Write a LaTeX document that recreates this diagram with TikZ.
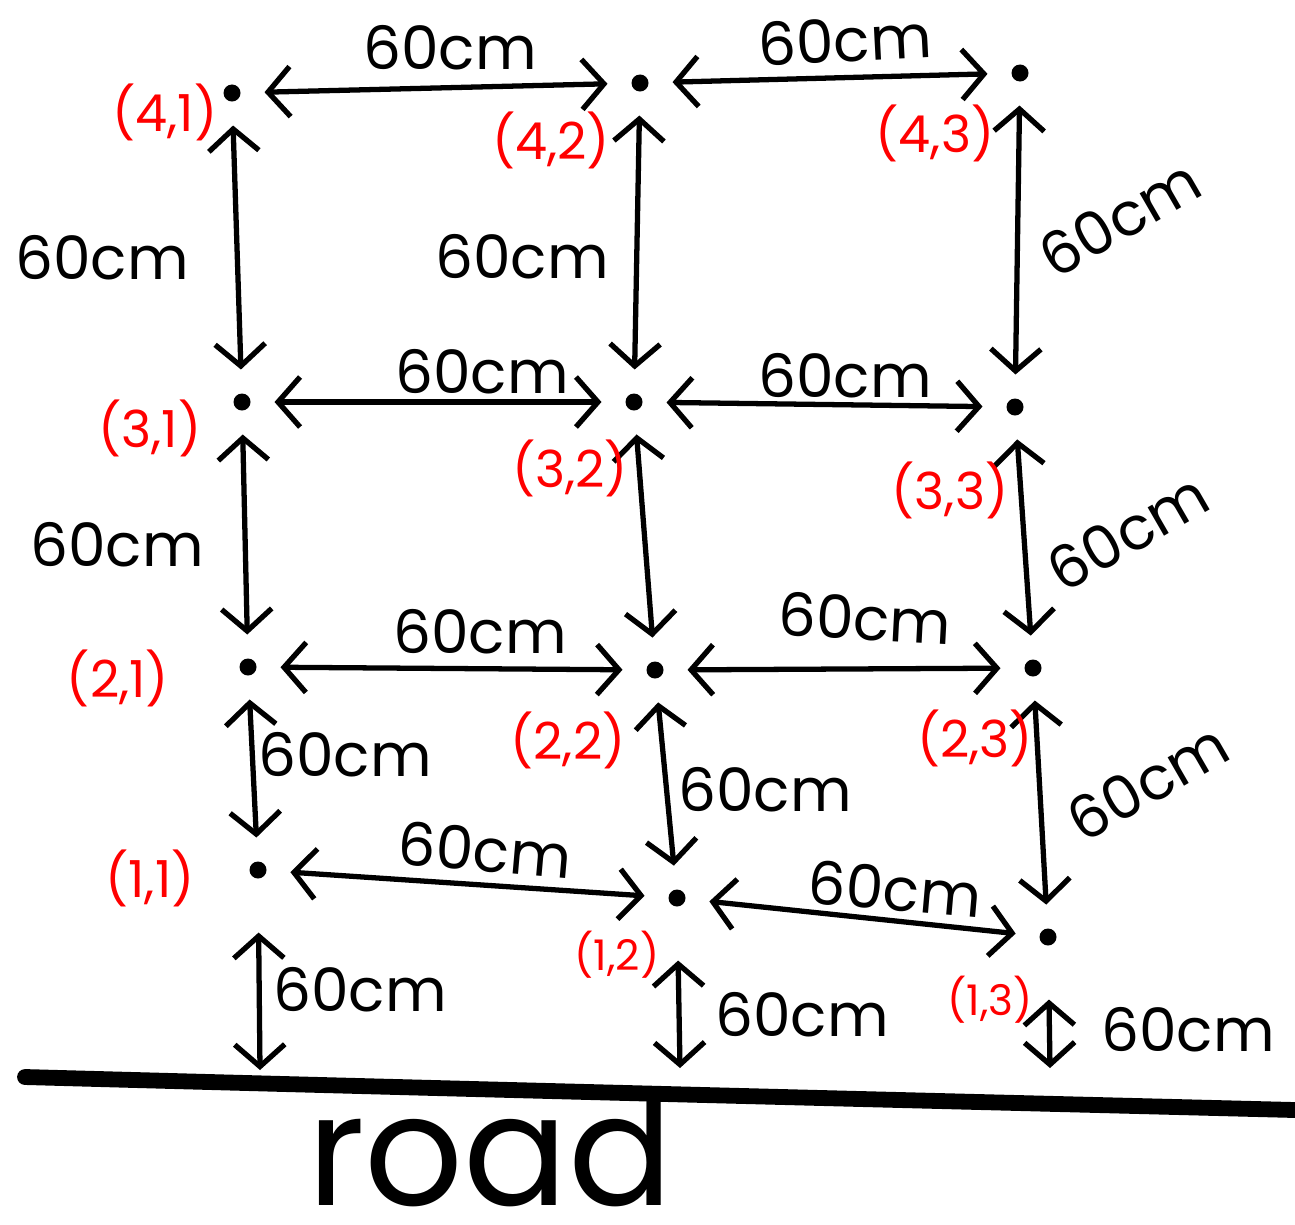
\documentclass[tikz,border=0pt]{standalone}
\usepackage{fontspec}
\newfontfamily\hand{Poppins}
\usetikzlibrary{arrows.meta}
\begin{document}
\begin{tikzpicture}[x=0.01cm,y=-0.01cm,
  dot/.style={circle,fill=black,inner sep=0pt,minimum size=0.17cm,outer sep=0.24cm},
  arr/.style={line width=1.5pt,line cap=round,{Straight Barb[length=0.22cm,width=0.5cm,line width=1.5pt]}-{Straight Barb[length=0.22cm,width=0.5cm,line width=1.5pt]}},
  dist/.style={font=\hand\fontsize{17}{20}\selectfont,inner sep=1pt},
  lab/.style={font=\hand\fontsize{14.5}{17}\selectfont,text=red,inner sep=1pt}]
\useasboundingbox (0,0) rectangle (1295,1224);
% dots
\node[dot] (a41) at (232,93) {};
\node[dot] (a42) at (640,83) {};
\node[dot] (a43) at (1020,73) {};
\node[dot] (a31) at (242,402) {};
\node[dot] (a32) at (634,402) {};
\node[dot] (a33) at (1015,407) {};
\node[dot] (a21) at (248,667) {};
\node[dot] (a22) at (655,670) {};
\node[dot] (a23) at (1033,668) {};
\node[dot] (a11) at (258,870) {};
\node[dot] (a12) at (677,898) {};
\node[dot] (a13) at (1048,937) {};
% road points
\coordinate (r1) at (260,1070);
\coordinate (r2) at (680,1068);
\coordinate (r3) at (1050,1068);
% road line
\draw[line width=4.5pt,line cap=round] (25,1077) .. controls (500,1090) and (900,1100) .. (1295,1110);
% horizontal arrows
\draw[arr] (a41) -- (a42);
\draw[arr] (a42) -- (a43);
\draw[arr] (a31) -- (a32);
\draw[arr] (a32) -- (a33);
\draw[arr] (a21) -- (a22);
\draw[arr] (a22) -- (a23);
\draw[arr] (a11) -- (a12);
\draw[arr] (a12) -- (a13);
% vertical arrows
\draw[arr] (a41) -- (a31);
\draw[arr] (a31) -- (a21);
\draw[arr] (a21) -- (a11);
\draw[arr] (a42) -- (a32);
\draw[arr] (a32) -- (a22);
\draw[arr] (a22) -- (a12);
\draw[arr] (a43) -- (a33);
\draw[arr] (a33) -- (a23);
\draw[arr] (a23) -- (a13);
% to road
\draw[arr,shorten <=0.3cm] (a11) -- (r1);
\draw[arr,shorten <=0.3cm] (a12) -- (r2);
\draw[arr,shorten <=0.3cm] (a13) -- (r3);
% distance labels
\node[dist] (d1) at (450,48) {60cm};
\node[dist,rotate=3] (d2) at (845,40) {60cm};
\node[dist] (d3) at (102,258) {60cm};
\node[dist] (d4) at (522,257) {60cm};
\node[dist,rotate=30] (d5) at (1120,218) {60cm};
\node[dist] (d6) at (482,372) {60cm};
\node[dist] (d7) at (845,376) {60cm};
\node[dist] (d8) at (117,545) {60cm};
\node[dist,rotate=30] (d9) at (1128,532) {60cm};
\node[dist] (d10) at (480,632) {60cm};
\node[dist,rotate=-3] (d11) at (865,618) {60cm};
\node[dist] (d12) at (345,755) {60cm};
\node[dist] (d13) at (765,790) {60cm};
\node[dist,rotate=30] (d14) at (1148,782) {60cm};
\node[dist,rotate=-5] (d15) at (485,850) {60cm};
\node[dist,rotate=-5] (d16) at (895,889) {60cm};
\node[dist] (d17) at (360,990) {60cm};
\node[dist] (d18) at (802,1015) {60cm};
\node[dist] (d19) at (1188,1030) {60cm};
% coordinate labels
\node[lab] (l41) at (165,112) {(4,1)};
\node[lab] (l42) at (551,140) {(4,2)};
\node[lab] (l43) at (935,133) {(4,3)};
\node[lab] (l31) at (150,428) {(3,1)};
\node[lab] (l32) at (570,468) {(3,2)};
\node[lab] (l33) at (950,490) {(3,3)};
\node[lab] (l21) at (118,678) {(2,1)};
\node[lab] (l22) at (568,740) {(2,2)};
\node[lab] (l23) at (975,738) {(2,3)};
\node[lab] (l11) at (150,878) {(1,1)};
\node[lab,font=\hand\fontsize{12}{14}\selectfont] (l12) at (617,955) {(1,2)};
\node[lab,font=\hand\fontsize{12}{14}\selectfont] (l13) at (990,1000) {(1,3)};
% road text
\node[font=\hand\fontsize{44}{48}\selectfont,anchor=base,inner sep=0pt] (road) at (490,1205) {road};
\end{tikzpicture}
\end{document}
